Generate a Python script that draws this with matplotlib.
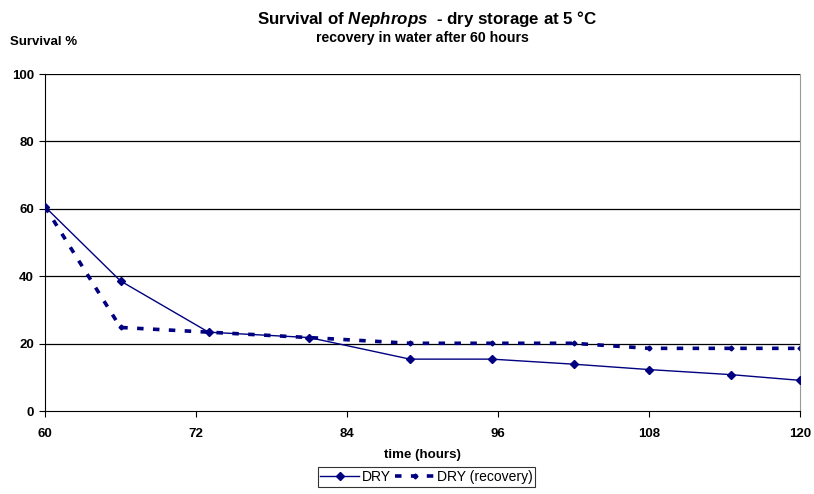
import numpy as np
import matplotlib.pyplot as plt

plt.rcParams['font.family'] = ['Liberation Sans', 'DejaVu Sans']
plt.rcParams['font.weight'] = 'bold'
plt.rcParams['mathtext.fontset'] = 'custom'
plt.rcParams['mathtext.it'] = 'Liberation Sans:italic:bold'
plt.rcParams['mathtext.rm'] = 'Liberation Sans:bold'

# data
hours = [60, 66, 73, 81, 89, 95.5, 102, 108, 114.5, 120]
dry = [60.6, 38.6, 23.4, 21.8, 15.4, 15.4, 13.9, 12.3, 10.8, 9.1]
dry_recovery = [60.6, 24.8, 23.4, 21.8, 20.1, 20.1, 20.1, 18.6, 18.6, 18.6]
xticks = [60, 72, 84, 96, 108, 120]
yticks = [0, 20, 40, 60, 80, 100]

navy = '#000080'

fig = plt.figure(figsize=(8.14, 4.94), dpi=100)
ax = fig.add_axes([0.0553, 0.168, 0.9275, 0.682])

for y in yticks[1:]:
    ax.axhline(y, color='black', lw=0.9, zorder=1)

ax.plot(hours, dry, color=navy, lw=1, marker='D', ms=4, label='DRY', zorder=3)
ax.plot(hours, dry_recovery, color=navy, lw=2.6, ls=(0, (1.8, 2.6)),
        marker='D', ms=2.5, label='DRY (recovery)', zorder=2)

ax.set_xlim(60, 120)
ax.set_ylim(0, 100)
ax.set_xticks(xticks)
ax.set_yticks(yticks)
ax.tick_params(axis='both', direction='out', length=4, width=0.8,
               labelsize=9.5, pad=4)
ax.tick_params(axis='x', pad=8)
for lab in ax.get_xticklabels() + ax.get_yticklabels():
    lab.set_fontweight('bold')

ax.spines['top'].set_visible(False)
ax.spines['right'].set_color('#999999')
ax.spines['left'].set_color('black')
ax.spines['bottom'].set_color('black')

ax.set_xlabel('time (hours)', fontsize=9.6, fontweight='bold', labelpad=7)

fig.text(0.525, 0.961, 'Survival of $\\mathit{Nephrops}$  - dry storage at 5 °C',
         ha='center', va='center', fontsize=12.2, fontweight='bold')
fig.text(0.519, 0.923, 'recovery in water after 60 hours',
         ha='center', va='center', fontsize=10.2, fontweight='bold')
fig.text(0.012, 0.915, 'Survival %', ha='left', va='center',
         fontsize=9.5, fontweight='bold')

leg = fig.legend(loc='center', bbox_to_anchor=(0.524, 0.034), ncol=2,
                 frameon=True, fancybox=False, edgecolor='black',
                 fontsize=10, handlelength=2.8, columnspacing=0.3,
                 handletextpad=0.2, borderpad=0.2, borderaxespad=0)
leg.get_frame().set_linewidth(0.8)
for t in leg.get_texts():
    t.set_fontweight('normal')

fig.savefig('out.png', dpi=100)
